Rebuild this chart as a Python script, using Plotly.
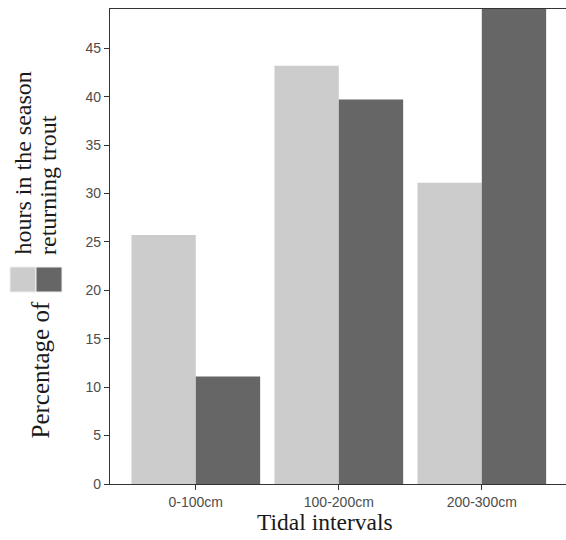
import plotly.graph_objects as go

categories = ["0-100cm", "100-200cm", "200-300cm"]
hours_season = [25.7, 43.2, 31.1]
returning_trout = [11.1, 39.7, 49.2]
y_ticks = [0, 5, 10, 15, 20, 25, 30, 35, 40, 45]

LIGHT = "#cccccc"
DARK = "#666666"
SERIF = "Liberation Serif, Times New Roman, serif"
SANS = "Liberation Sans, Arial, sans-serif"

fig = go.Figure()
fig.add_trace(go.Bar(x=categories, y=hours_season, name="hours in the season",
                     marker=dict(color=LIGHT, line=dict(width=0)), showlegend=False))
fig.add_trace(go.Bar(x=categories, y=returning_trout, name="returning trout",
                     marker=dict(color=DARK, line=dict(width=0)), showlegend=False))

W, H = 566, 540
L, R, T, B = 110, 0, 9, 56
pw = W - L - R
ph = H - T - B

def px(x):
    return (x - L) / pw

def py(y):
    return (H - B - y) / ph

fig.update_layout(
    width=W, height=H,
    margin=dict(l=L, r=R, t=T, b=B, pad=0),
    paper_bgcolor="white", plot_bgcolor="white",
    barmode="group", bargap=0.1, bargroupgap=0,
    xaxis=dict(range=[-0.6, -0.6 + pw / 143.0], showline=True, linecolor="#333333", linewidth=1.3,
               mirror=True, ticks="outside", ticklen=5, tickcolor="#333333", tickwidth=1,
               tickfont=dict(family=SANS, size=14, color="#4d4d4d"), showgrid=False, zeroline=False),
    yaxis=dict(range=[0, 49.05], showline=True, linecolor="#333333", linewidth=1.3,
               tickvals=y_ticks, ticks="outside", ticklen=5, tickcolor="#333333", tickwidth=1,
               tickfont=dict(family=SANS, size=14, color="#4d4d4d"), showgrid=False, zeroline=False),
    annotations=[
        dict(text="Tidal intervals", xref="paper", yref="paper", x=px(325), y=py(522),
             xanchor="center", yanchor="middle", showarrow=False,
             font=dict(family=SERIF, size=23.5, color="#1a1a1a")),
        dict(text="hours in the season", xref="paper", yref="paper", x=px(22), y=py(257),
             xanchor="center", yanchor="bottom", textangle=-90, showarrow=False,
             font=dict(family=SERIF, size=24, color="#1a1a1a")),
        dict(text="returning trout", xref="paper", yref="paper", x=px(48), y=py(257),
             xanchor="center", yanchor="bottom", textangle=-90, showarrow=False,
             font=dict(family=SERIF, size=24, color="#1a1a1a")),
        dict(text="Percentage of", xref="paper", yref="paper", x=px(40), y=py(300),
             xanchor="center", yanchor="top", textangle=-90, showarrow=False,
             font=dict(family=SERIF, size=25, color="#1a1a1a")),
    ],
    shapes=[
        dict(type="rect", xref="paper", yref="paper", x0=px(10), x1=px(36), y0=py(292), y1=py(267),
             fillcolor=LIGHT, line=dict(color="#eeeeee", width=1)),
        dict(type="rect", xref="paper", yref="paper", x0=px(36), x1=px(62), y0=py(292), y1=py(267),
             fillcolor=DARK, line=dict(color="#eeeeee", width=1)),
    ],
)

fig.write_html("out.html", config={"displayModeBar": False},
               post_script="document.body.style.margin='0px';document.body.style.overflow='hidden';")
